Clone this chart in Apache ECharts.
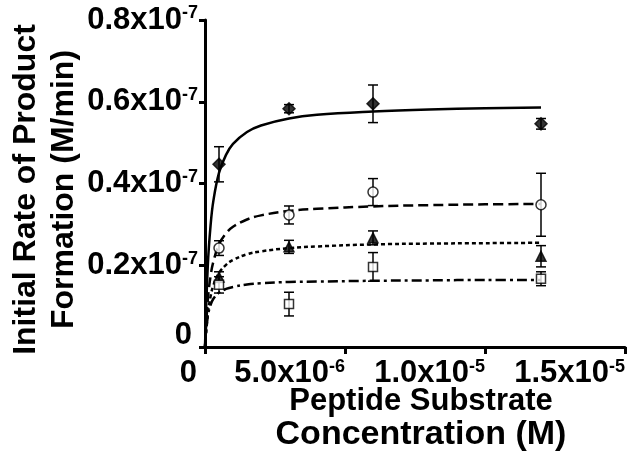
<!DOCTYPE html>
<html>
<head>
<meta charset="utf-8">
<script src="https://cdn.jsdelivr.net/npm/echarts@6/dist/echarts.min.js"></script>
<style>
  html, body { margin: 0; padding: 0; background: #fff; }
  #chart { width: 629px; height: 466px; }
</style>
</head>
<body>
<div id="chart"></div>
<script>
// concentrations (M) where the points were measured
var xPoints = [5e-7, 3e-6, 6e-6, 1.2e-5];

// rates in units of 1e-7 M/min, with +/- error
var diamondY = [0.447, 0.583, 0.595, 0.546];
var diamondErr = [0.043, 0.010, 0.046, 0.013];
var circleY = [0.242, 0.323, 0.379, 0.348];
var circleErr = [0.018, 0.022, 0.033, 0.077];
var triangleY = [0.171, 0.245, 0.267, 0.222];
var triangleErr = [0.013, 0.016, 0.017, 0.026];
var squareY = [0.152, 0.105, 0.196, 0.167];
var squareErr = [0.020, 0.029, 0.035, 0.017];

// fitted curves
var curveX = [0, 1e-7, 2e-7, 3e-7, 5e-7, 7.5e-7, 1e-6, 1.5e-6, 2e-6, 3e-6, 4e-6, 6e-6, 8e-6, 1e-5, 1.2e-5];
var curveSolid = [0, 0.199, 0.298, 0.358, 0.426, 0.470, 0.497, 0.526, 0.542, 0.559, 0.568, 0.576, 0.581, 0.584, 0.586];
var curveDash = [0, 0.115, 0.174, 0.209, 0.251, 0.278, 0.294, 0.312, 0.322, 0.333, 0.338, 0.344, 0.347, 0.349, 0.350];
var curveDot = [0, 0.081, 0.124, 0.151, 0.181, 0.201, 0.213, 0.227, 0.234, 0.242, 0.246, 0.251, 0.253, 0.254, 0.255];
var curveDashDot = [0, 0.075, 0.103, 0.118, 0.133, 0.142, 0.147, 0.153, 0.156, 0.159, 0.160, 0.162, 0.163, 0.164, 0.164];

var xTickLabels = ['{zx|0}', '{n|5.0x10}{s|-6}', '{n|1.0x10}{s|-5}', '{n|1.5x10}{s|-5}'];
var yTickLabels = ['{zy|0}', '{n|0.2x10}{s|-7}', '{n|0.4x10}{s|-7}', '{n|0.6x10}{s|-7}', '{n|0.8x10}{s|-7}'];

var FONT = '"Liberation Sans", Arial, sans-serif';

function pairs(xs, ys) {
    return xs.map(function (x, i) { return [x, ys[i]]; });
}
function errData(ys, errs) {
    return xPoints.map(function (x, i) { return [x, ys[i] - errs[i], ys[i] + errs[i]]; });
}

var chart = echarts.init(document.getElementById('chart'));

function errorBars(ys, errs) {
    return {
        type: 'custom',
        data: errData(ys, errs),
        z: 3,
        renderItem: function (params, api) {
            var lo = api.coord([api.value(0), api.value(1)]);
            var hi = api.coord([api.value(0), api.value(2)]);
            var cap = 5;
            var st = { stroke: '#000', lineWidth: 1.5 };
            return {
                type: 'group',
                children: [
                    { type: 'line', shape: { x1: lo[0], y1: lo[1], x2: hi[0], y2: hi[1] }, style: st },
                    { type: 'line', shape: { x1: lo[0] - cap, y1: lo[1], x2: lo[0] + cap, y2: lo[1] }, style: st },
                    { type: 'line', shape: { x1: hi[0] - cap, y1: hi[1], x2: hi[0] + cap, y2: hi[1] }, style: st }
                ]
            };
        }
    };
}

function curve(data, type, width) {
    return {
        type: 'line',
        data: pairs(curveX, data),
        smooth: 0.4,
        showSymbol: false,
        z: 2,
        lineStyle: { color: '#000', width: width, type: type }
    };
}

function points(ys, symbol, size, fill) {
    return {
        type: 'scatter',
        data: pairs(xPoints, ys),
        symbol: symbol,
        symbolSize: size,
        z: 4,
        itemStyle: { color: fill, borderColor: '#000', borderWidth: 1.5 }
    };
}

var bold = { fontFamily: FONT, fontWeight: 'bold', color: '#000' };
var labelRich = {
    n: Object.assign({ fontSize: 31 }, bold),
    s: Object.assign({ fontSize: 18, verticalAlign: 'top' }, bold),
    zx: Object.assign({ fontSize: 31, padding: [0, 8, 0, 0] }, bold),
    zy: Object.assign({ fontSize: 31, padding: [0, 6, 24, 0] }, bold)
};

var option = {
    animation: false,
    grid: { left: 205, right: 4, top: 20, bottom: 119, containLabel: false, outerBoundsMode: 'none' },
    xAxis: {
        type: 'value',
        min: 0, max: 1.5e-5, interval: 5e-6,
        splitLine: { show: false },
        axisLine: { lineStyle: { color: '#000', width: 3 } },
        axisTick: { length: 7, lineStyle: { color: '#000', width: 3 } },
        axisLabel: {
            margin: 11, align: 'right',
            formatter: function (v, i) { return xTickLabels[i]; },
            rich: labelRich
        },
        name: '{a|Peptide Substrate}\n{b|Concentration (M)}',
        nameLocation: 'middle',
        nameMoveOverlap: false,
        nameGap: 38,
        nameTextStyle: {
            padding: [0, 0, 0, 12],
            rich: {
                a: Object.assign({ fontSize: 31, lineHeight: 33 }, bold),
                b: Object.assign({ fontSize: 34, lineHeight: 33 }, bold)
            }
        }
    },
    yAxis: {
        type: 'value',
        min: 0, max: 0.8, interval: 0.2,
        splitLine: { show: false },
        axisLine: { lineStyle: { color: '#000', width: 3 } },
        axisTick: { length: 6, lineStyle: { color: '#000', width: 3 } },
        axisLabel: {
            margin: 7,
            formatter: function (v, i) { return yTickLabels[i]; },
            rich: labelRich
        },
        name: 'Initial Rate of Product\nFormation (M/min)',
        nameLocation: 'middle',
        nameMoveOverlap: false,
        nameGap: 122,
        nameTextStyle: { fontFamily: FONT, fontWeight: 'bold', fontSize: 32, color: '#000', lineHeight: 38, padding: [0, 12, 0, 0] }
    },
    series: [
        curve(curveSolid, 'solid', 2.5),
        curve(curveDash, [10, 5], 2.5),
        curve(curveDot, [4, 3], 2.5),
        curve(curveDashDot, [10, 4, 3, 4], 2.5),
        errorBars(diamondY, diamondErr),
        errorBars(circleY, circleErr),
        errorBars(triangleY, triangleErr),
        errorBars(squareY, squareErr),
        points(diamondY, 'diamond', 12, '#000'),
        points(circleY, 'circle', 10, '#fff'),
        points(triangleY, 'triangle', 10, '#000'),
        points(squareY, 'rect', 9, '#fff')
    ]
};

chart.setOption(option);
</script>
</body>
</html>
